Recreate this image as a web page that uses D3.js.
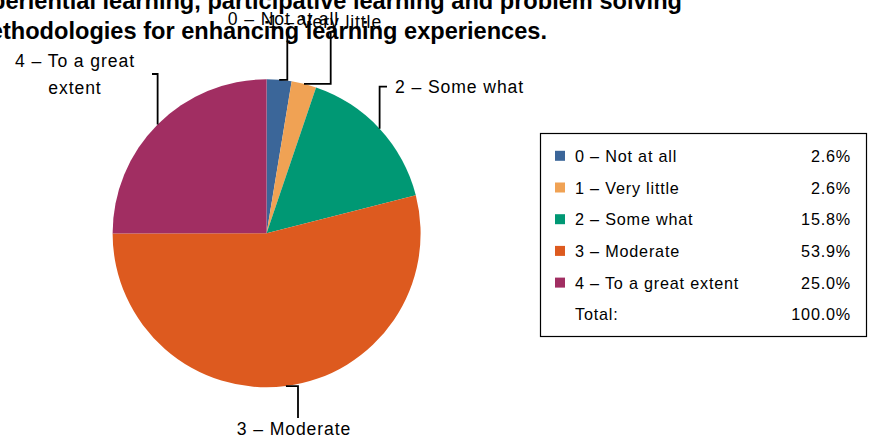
<!DOCTYPE html>
<html>
<head>
<meta charset="utf-8">
<script src="https://cdn.jsdelivr.net/npm/d3@7/dist/d3.min.js"></script>
<style>
  html, body { margin: 0; padding: 0; background: #fff; overflow: hidden; }
  svg { display: block; font-family: "Liberation Sans", Arial, sans-serif; }
</style>
</head>
<body>
<svg id="chart" width="880" height="437"></svg>
<script>
// ---- data ----
const categories = ["0 – Not at all", "1 – Very little", "2 – Some what", "3 – Moderate", "4 – To a great extent"];
const values = [2.6, 2.6, 15.8, 53.9, 25.0];
const valueLabels = ["2.6%", "2.6%", "15.8%", "53.9%", "25.0%"];
const totalLabel = "Total:";
const totalValue = "100.0%";
const titleLines = ["Experiential learning, participative learning and problem solving",
                    "methodologies for enhancing learning experiences."];
const colors = ["#3B6699", "#F0A254", "#009874", "#DD5A1F", "#A12E62"];

// ---- layout ----
const W = 880, H = 437;
const cx = 266.6, cy = 233.3, R = 154;
const labelFont = 17.6, labelSp = 0.9;
const legendFont = 16.2, legendSp = 0.8;
const labelLayout = [
  { lines: ["0 – Not at all"], x: 283.5, y: 25, leader: (p) => `M${p[0]},${p[1]}H287.3V29` },
  { lines: ["1 – Very little"], x: 325, y: 28, leader: (p) => `M${p[0]},${p[1]}H330.7V33` },
  { lines: ["2 – Some what"], x: 395, y: 93, anchor: "start", leader: (p) => `M${p[0]},${p[1]}V86.7H387` },
  { lines: ["3 – Moderate"], x: 294, y: 435, leader: (p) => `M${p[0]},${p[1]}H298V418` },
  { lines: ["4 – To a great", "extent"], x: 75, y: 66.5, dy: 27.5, leader: (p) => `M${p[0]},${p[1]}V74H152` }
];

const svg = d3.select("#chart");
svg.append("rect").attr("width", W).attr("height", H).attr("fill", "#fff");

const pie = d3.pie().sort(null).value(d => d);
const arcs = pie(values);
const arcGen = d3.arc().innerRadius(0).outerRadius(R);

const g = svg.append("g").attr("transform", `translate(${cx},${cy})`);
g.selectAll("path.slice").data(arcs).join("path")
  .attr("class", "slice")
  .attr("d", arcGen)
  .attr("fill", (d, i) => colors[i]);

// leader lines
arcs.forEach((a, i) => {
  const m = (a.startAngle + a.endAngle) / 2;
  const p = [cx + R * Math.sin(m), cy - R * Math.cos(m)];
  const L = labelLayout[i];
  svg.append("path").attr("d", L.leader(p))
    .attr("fill", "none").attr("stroke", "#000").attr("stroke-width", 1.8);
});

// labels
labelLayout.forEach((L, i) => {
  L.lines.forEach((t, j) => {
    svg.append("text")
      .attr("x", L.x).attr("y", L.y + j * (L.dy || 0))
      .attr("text-anchor", L.anchor || "middle")
      .attr("font-size", labelFont)
      .attr("letter-spacing", labelSp)
      .attr("fill", "#000")
      .text(t);
  });
});

// title (bold, clipped at left)
const titleEnds = [682, 547];
const titleBase = [9, 39];
titleLines.forEach((t, i) => {
  svg.append("text")
    .attr("x", titleEnds[i]).attr("y", titleBase[i])
    .attr("text-anchor", "end")
    .attr("font-size", 23.6)
    .attr("font-weight", "bold")
    .attr("fill", "#000")
    .text(t);
});

// legend
const lg = svg.append("g");
lg.append("rect").attr("x", 540.5).attr("y", 133.5).attr("width", 326).attr("height", 203)
  .attr("fill", "#fff").attr("stroke", "#000").attr("stroke-width", 1.2);
const rowY = d3.scaleLinear().domain([0, 1]).range([161.8, 193.5]);
const rows = categories.map((c, i) => ({ c, v: valueLabels[i], col: colors[i] }));
rows.push({ c: totalLabel, v: totalValue, col: null });
rows.forEach((r, i) => {
  const y = rowY(i);
  if (r.col) {
    lg.append("rect").attr("x", 555).attr("y", y - 11).attr("width", 10).attr("height", 10).attr("fill", r.col);
  }
  lg.append("text").attr("x", 575).attr("y", y)
    .attr("font-size", legendFont).attr("letter-spacing", legendSp).text(r.c);
  lg.append("text").attr("x", 851).attr("y", y).attr("text-anchor", "end")
    .attr("font-size", legendFont).attr("letter-spacing", legendSp).text(r.v);
});
</script>
</body>
</html>
